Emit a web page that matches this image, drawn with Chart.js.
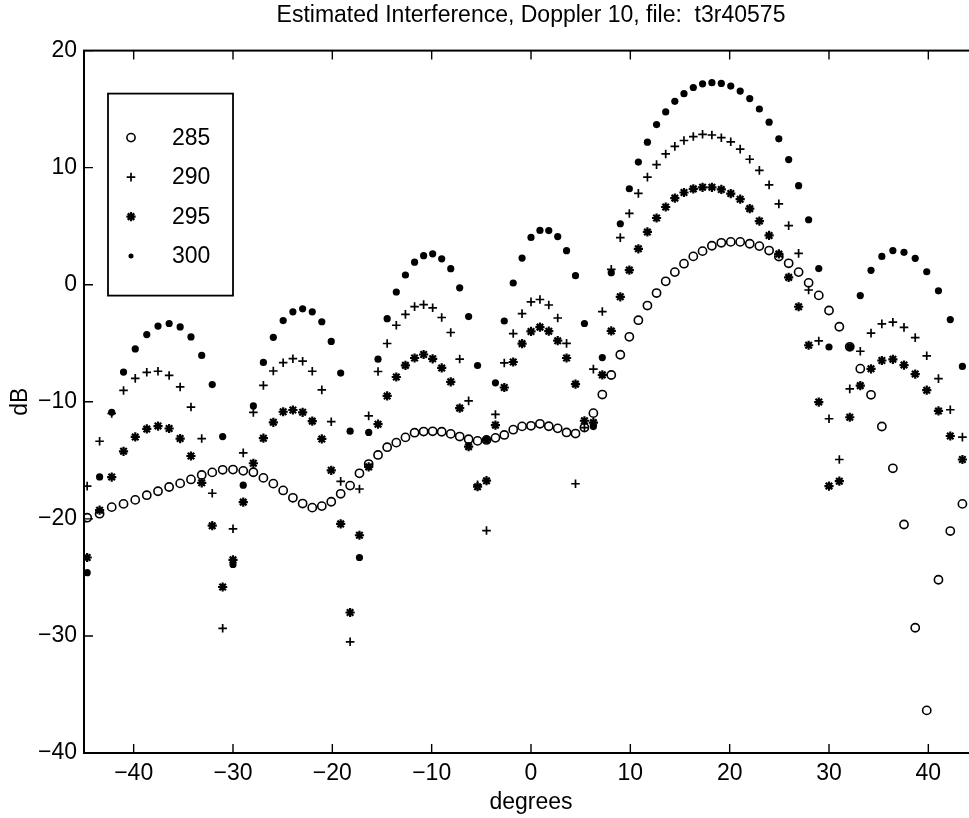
<!DOCTYPE html>
<html>
<head>
<meta charset="utf-8">
<title>Estimated Interference</title>
<script src="https://cdn.jsdelivr.net/npm/chart.js@4.4.0/dist/chart.umd.min.js"></script>
<style>
  html, body { margin: 0; padding: 0; background: #fff; overflow: hidden; }
  #wrap { position: relative; width: 990px; height: 818px; }
</style>
</head>
<body>
<div id="wrap"><canvas id="interference"></canvas></div>
<script>
// ::::: Data read off the plot :::::
// angle grid (degrees), shared by all four runs
const angleDeg = [
  -44.68, -43.43, -42.21, -41.02, -39.84, -38.68, -37.55, -36.43, -35.32, -34.23,
  -33.15, -32.09, -31.04, -30.00, -28.97, -27.95, -26.94, -25.94, -24.95, -23.97,
  -22.99, -22.02, -21.06, -20.11, -19.16, -18.21, -17.27, -16.34, -15.40, -14.48,
  -13.56, -12.64, -11.72, -10.81, -9.90, -8.99, -8.08, -7.18, -6.28, -5.38,
  -4.48, -3.58, -2.69, -1.79, -0.90, 0.00, 0.90, 1.79, 2.69, 3.58,
  4.48, 5.38, 6.28, 7.18, 8.08, 8.99, 9.90, 10.81, 11.72, 12.64,
  13.56, 14.48, 15.40, 16.34, 17.27, 18.21, 19.16, 20.11, 21.06, 22.02,
  22.99, 23.97, 24.95, 25.94, 26.94, 27.95, 28.97, 30.00, 31.04, 32.09,
  33.15, 34.23, 35.32, 36.43, 37.55, 38.68, 39.84, 41.02, 42.21, 43.43
];

// dB values, one per angle
const level285 = [
  -19.9, -19.56, -19.0, -18.72, -18.38, -17.98, -17.64, -17.28, -16.97, -16.63,
  -16.25, -16.03, -15.81, -15.79, -15.9, -16.02, -16.5, -16.99, -17.57, -18.2,
  -18.69, -19.04, -18.91, -18.54, -17.86, -17.16, -16.11, -15.32, -14.54, -13.88,
  -13.49, -13.04, -12.64, -12.54, -12.52, -12.56, -12.74, -12.97, -13.2, -13.34,
  -13.26, -13.08, -12.83, -12.38, -12.1, -12.05, -11.88, -12.09, -12.27, -12.62,
  -12.71, -12.2, -10.97, -9.38, -7.71, -5.98, -4.45, -3.03, -1.78, -0.71,
  0.29, 1.08, 1.8, 2.42, 2.87, 3.33, 3.58, 3.66, 3.66, 3.5,
  3.3, 2.92, 2.41, 1.83, 1.08, 0.16, -0.91, -2.2, -3.59, -5.3,
  -7.17, -9.4, -12.11, -15.68, -20.48, -29.3, -36.36, -25.2, -21.04, -18.72
];
const level290 = [
  -17.2, -13.37, -11.0, -9.03, -8.0, -7.48, -7.39, -7.75, -8.73, -10.45,
  -13.14, -17.81, -29.35, -20.85, -14.36, -10.91, -8.6, -7.37, -6.66, -6.32,
  -6.53, -7.39, -8.98, -11.7, -16.8, -30.5, -17.45, -11.2, -7.41, -5.02,
  -3.46, -2.53, -1.87, -1.7, -1.97, -2.8, -4.08, -6.35, -9.92, -17.1,
  -21.0, -11.08, -6.68, -4.17, -2.47, -1.46, -1.26, -1.73, -2.84, -5.01,
  -17.0, -12.2, -7.21, -2.29, 1.32, 4.02, 6.09, 7.8, 9.19, 10.26,
  11.17, 11.82, 12.32, 12.66, 12.85, 12.79, 12.56, 12.21, 11.58, 10.72,
  9.77, 8.53, 6.91, 5.05, 2.68, -0.45, -4.8, -11.45, -14.93, -8.9,
  -5.68, -4.13, -3.34, -3.2, -3.64, -4.52, -6.07, -8.02, -10.68, -13.02
];
const level295 = [
  -23.3, -19.26, -16.43, -14.23, -13.0, -12.32, -12.07, -12.28, -13.14, -14.63,
  -16.92, -20.58, -25.82, -23.5, -18.57, -15.25, -13.11, -11.75, -10.85, -10.7,
  -10.9, -11.65, -13.17, -15.85, -20.43, -28.0, -21.4, -15.56, -11.91, -9.5,
  -7.88, -6.89, -6.26, -5.96, -6.33, -7.11, -8.29, -10.54, -13.83, -17.25,
  -16.74, -11.99, -8.78, -6.6, -5.03, -3.99, -3.62, -3.97, -4.78, -6.26,
  -8.49, -11.62, -11.78, -7.7, -3.95, -1.03, 1.25, 3.07, 4.51, 5.7,
  6.64, 7.4, 7.88, 8.19, 8.32, 8.32, 8.14, 7.79, 7.31, 6.5,
  5.44, 4.21, 2.63, 0.63, -1.88, -5.17, -10.02, -17.2, -16.78, -11.32,
  -8.62, -7.18, -6.47, -6.37, -6.86, -7.63, -9.01, -10.78, -12.92, -14.93
];
const level300 = [
  -24.6, -16.42, -10.9, -7.46, -5.48, -4.26, -3.53, -3.31, -3.6, -4.46,
  -6.04, -8.53, -12.97, -23.9, -17.12, -10.35, -6.64, -4.49, -3.06, -2.31,
  -2.06, -2.31, -3.16, -4.84, -7.55, -12.51, -23.3, -12.62, -6.36, -2.9,
  -0.62, 0.83, 1.93, 2.48, 2.64, 2.21, 1.37, -0.26, -2.72, -6.9,
  -13.26, -8.38, -3.1, 0.15, 2.28, 4.04, 4.64, 4.63, 4.11, 2.91,
  0.77, -3.31, -12.12, -6.22, 1.03, 5.21, 8.2, 10.48, 12.18, 13.68,
  14.76, 15.67, 16.32, 16.85, 17.16, 17.26, 17.2, 16.97, 16.54, 15.9,
  15.01, 13.89, 12.46, 10.69, 8.46, 5.55, 1.38, -5.32, null, -5.31,
  -0.93, 1.23, 2.42, 2.92, 2.77, 2.26, 1.11, -0.52, -2.98, -6.98
];

const runLabels = ['285', '290', '295', '300'];
const xTicks = [-40, -30, -20, -10, 0, 10, 20, 30, 40];
const yTicks = [-40, -30, -20, -10, 0, 10, 20];

// ::::: Look :::::
const fontFamily = "'Liberation Sans', Arial, Helvetica, sans-serif";
const textFont = { family: fontFamily, size: 23, weight: 'normal' };
const tickLen = 9;
Chart.defaults.font.family = fontFamily;
Chart.defaults.color = '#000';

// marker style for each run, same order as runLabels
const markers = [
  { pointStyle: 'circle', radius: 4.1, borderWidth: 1.6, fill: false },
  { pointStyle: 'cross', radius: 4.3, borderWidth: 1.7, fill: false },
  { pointStyle: 'star', radius: 4.6, borderWidth: 2.2, fill: false },
  { pointStyle: 'circle', radius: 3.6, borderWidth: 0, fill: true }
];

function toPoints(levels) {
  return angleDeg
    .map((a, i) => ({ x: a, y: levels[i] }))
    .filter(p => p.y !== null);
}

// MATLAB style minus sign on the tick labels
function tickText(v) {
  return v < 0 ? '\u2212' + Math.abs(v) : String(v);
}

function drawMarker(ctx, m, x, y) {
  ctx.beginPath();
  if (m.pointStyle === 'circle' && m.fill) {
    ctx.arc(x, y, m.radius * 0.7, 0, Math.PI * 2);
    ctx.fill();
    return;
  }
  if (m.pointStyle === 'circle') {
    ctx.arc(x, y, m.radius, 0, Math.PI * 2);
  } else {
    ctx.moveTo(x - m.radius, y); ctx.lineTo(x + m.radius, y);
    ctx.moveTo(x, y - m.radius); ctx.lineTo(x, y + m.radius);
    if (m.pointStyle === 'star') {
      const d = m.radius * Math.SQRT1_2;
      ctx.moveTo(x - d, y - d); ctx.lineTo(x + d, y + d);
      ctx.moveTo(x - d, y + d); ctx.lineTo(x + d, y - d);
    }
  }
  ctx.lineWidth = m.borderWidth;
  ctx.stroke();
}

// ::::: Box, inward ticks and the boxed legend :::::
const matlabAxes = {
  id: 'matlabAxes',
  afterDatasetsDraw(chart) {
    const { ctx, chartArea: a, scales: { x, y } } = chart;
    ctx.save();
    ctx.strokeStyle = '#000';
    ctx.fillStyle = '#000';
    ctx.lineWidth = 2;
    ctx.strokeRect(a.left, a.top, a.right - a.left, a.bottom - a.top);

    ctx.beginPath();
    xTicks.forEach(v => {
      const px = x.getPixelForValue(v);
      ctx.moveTo(px, a.bottom); ctx.lineTo(px, a.bottom - tickLen);
      ctx.moveTo(px, a.top); ctx.lineTo(px, a.top + tickLen);
    });
    yTicks.forEach(v => {
      const py = y.getPixelForValue(v);
      ctx.moveTo(a.left, py); ctx.lineTo(a.left + tickLen, py);
      ctx.moveTo(a.right, py); ctx.lineTo(a.right - tickLen, py);
    });
    ctx.lineWidth = 1.4;
    ctx.stroke();

    // legend box, upper left inside the axes
    const box = { left: a.left + 24, top: a.top + 43, width: 125, height: 202 };
    ctx.fillStyle = '#fff';
    ctx.fillRect(box.left, box.top, box.width, box.height);
    ctx.lineWidth = 1.8;
    ctx.strokeRect(box.left, box.top, box.width, box.height);

    ctx.fillStyle = '#000';
    ctx.font = `${textFont.size}px ${fontFamily}`;
    ctx.textAlign = 'left';
    ctx.textBaseline = 'middle';
    runLabels.forEach((label, i) => {
      const rowY = box.top + 44 + i * 39.5;
      drawMarker(ctx, markers[i], box.left + 23, rowY);
      ctx.fillText(label, box.left + 64, rowY + 1);
    });
    ctx.restore();
  }
};

const runLevels = [level285, level290, level295, level300];

new Chart(document.getElementById('interference'), {
  type: 'scatter',
  data: {
    datasets: runLabels.map((label, i) => ({
      label: label,
      data: toPoints(runLevels[i]),
      pointStyle: markers[i].pointStyle,
      pointRadius: markers[i].radius,
      pointBorderWidth: markers[i].borderWidth,
      borderColor: '#000',
      backgroundColor: markers[i].fill ? '#000' : 'rgba(0,0,0,0)',
      showLine: false,
      order: 3 - i // later runs drawn on top, as in the original
    }))
  },
  options: {
    responsive: true,
    maintainAspectRatio: false,
    animation: false,
    events: [],
    layout: { padding: { left: 0, right: 12, top: 0, bottom: 0 } },
    plugins: {
      legend: { display: false },
      tooltip: { enabled: false },
      title: {
        display: true,
        text: 'Estimated Interference, Doppler 10, file:  t3r40575',
        color: '#000',
        font: textFont,
        fullSize: false,
        padding: { top: 2, bottom: 21 }
      }
    },
    scales: {
      x: {
        type: 'linear',
        min: -45,
        max: 45,
        grid: { display: false, drawTicks: false },
        border: { display: false },
        afterBuildTicks: s => { s.ticks = xTicks.map(v => ({ value: v })); },
        afterFit: s => { s.height = 65; },
        ticks: { color: '#000', font: textFont, padding: 7, maxRotation: 0, autoSkip: false, callback: tickText },
        title: { display: true, text: 'degrees', color: '#000', font: textFont, padding: { top: 0, bottom: 2 } }
      },
      y: {
        type: 'linear',
        min: -40,
        max: 20,
        grid: { display: false, drawTicks: false },
        border: { display: false },
        afterBuildTicks: s => { s.ticks = yTicks.map(v => ({ value: v })); },
        afterFit: s => { s.width = 84; },
        ticks: { color: '#000', font: textFont, padding: 7, autoSkip: false, callback: tickText },
        title: { display: true, text: 'dB', color: '#000', font: textFont, padding: { top: 7, bottom: 0 } }
      }
    }
  },
  plugins: [matlabAxes]
});
</script>
</body>
</html>
